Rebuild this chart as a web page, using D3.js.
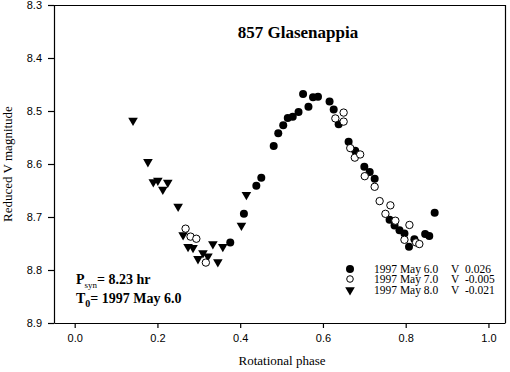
<!DOCTYPE html>
<html>
<head>
<meta charset="utf-8">
<script src="https://cdn.jsdelivr.net/npm/d3@7"></script>
<style>
  body { margin: 0; background: #fff; }
  svg { display: block; }
</style>
</head>
<body>
<div id="chart"></div>
<script>
// 1997 May 6.0 (filled circles)
const may6Phase = [0.376, 0.409, 0.439, 0.451, 0.481, 0.492, 0.504, 0.515, 0.527, 0.541, 0.552, 0.565, 0.576, 0.588, 0.616, 0.626, 0.638, 0.662, 0.678, 0.700, 0.713, 0.725, 0.761, 0.773, 0.785, 0.797, 0.808, 0.821, 0.847, 0.857, 0.870]
const may6Mag = [8.748, 8.694, 8.641, 8.626, 8.566, 8.542, 8.527, 8.513, 8.511, 8.502, 8.468, 8.492, 8.474, 8.473, 8.482, 8.497, 8.525, 8.558, 8.575, 8.605, 8.615, 8.628, 8.705, 8.716, 8.725, 8.731, 8.756, 8.742, 8.732, 8.736, 8.692]
// 1997 May 7.0 (open circles)
const may7Phase = [0.268, 0.280, 0.294, 0.317, 0.630, 0.650, 0.650, 0.666, 0.677, 0.690, 0.701, 0.725, 0.737, 0.763, 0.751, 0.775, 0.809, 0.797, 0.825, 0.833]
const may7Mag = [8.722, 8.737, 8.741, 8.786, 8.514, 8.503, 8.520, 8.570, 8.588, 8.582, 8.623, 8.643, 8.670, 8.678, 8.694, 8.707, 8.715, 8.743, 8.748, 8.751]
// 1997 May 8.0 (triangles)
const may8Phase = [0.141, 0.177, 0.190, 0.201, 0.213, 0.225, 0.250, 0.262, 0.274, 0.286, 0.298, 0.310, 0.322, 0.334, 0.346, 0.358, 0.403, 0.415]
const may8Mag = [8.518, 8.596, 8.634, 8.631, 8.648, 8.635, 8.680, 8.734, 8.756, 8.758, 8.779, 8.768, 8.774, 8.751, 8.785, 8.756, 8.716, 8.658]

const legendLabels = ["1997 May 6.0", "1997 May 7.0", "1997 May 8.0"]
const legendOffsets = ["0.026", "-0.005", "-0.021"]
const xTicks = [0, 0.2, 0.4, 0.6, 0.8, 1.0]
const yTicks = [8.3, 8.4, 8.5, 8.6, 8.7, 8.8, 8.9]

const w = 510
const h = 372
const margL = 54, margR = 505, margT = 5, margB = 323
const serif = "'Liberation Serif', 'Times New Roman', serif"
const sans = "'Liberation Sans', Arial, sans-serif"

const svg = d3.select('#chart')
    .append('svg')
    .attr('width', w)
    .attr('height', h)

const xScale = d3.scaleLinear()
    .domain([-0.05, 1.04])
    .range([margL, margR])

const yScale = d3.scaleLinear()
    .domain([8.3, 8.9])
    .range([margT, margB])

const xAxis = d3.axisBottom(xScale)
    .tickValues(xTicks)
    .tickFormat(d3.format('.1f'))
    .tickSize(5)
    .tickSizeOuter(0)
    .tickPadding(6)
const yAxis = d3.axisLeft(yScale)
    .tickValues(yTicks)
    .tickFormat(d3.format('.1f'))
    .tickSize(6)
    .tickSizeOuter(0)
    .tickPadding(6)

// frame top + right
svg.append('path')
    .attr('d', 'M' + margL + ',' + (margT + 0.5) + 'H' + (margR + 0.5) + 'V' + margB)
    .attr('fill', 'none')
    .attr('stroke', '#000')
    .attr('stroke-width', 1.2)

const gx = svg.append('g')
    .attr('transform', 'translate(0,' + margB + ')')
    .call(xAxis)
const gy = svg.append('g')
    .attr('transform', 'translate(' + margL + ',0)')
    .call(yAxis)

;[gx, gy].forEach(g => {
    g.selectAll('path, line').attr('stroke', '#000').attr('stroke-width', 1.2)
    g.selectAll('text').attr('fill', '#000').style('font-family', sans).style('font-size', '11px')
})

const toPoints = (ph, mg) => ph.map((p, i) => ({ p: p, m: mg[i] }))

const triangle = d3.symbol().type(d3.symbolTriangle).size(40)

// May 8 triangles
svg.append('g')
    .selectAll('path')
    .data(toPoints(may8Phase, may8Mag))
    .enter()
    .append('path')
    .attr('d', triangle)
    .attr('transform', d => 'translate(' + xScale(d.p) + ',' + yScale(d.m) + ') rotate(180)')
    .attr('fill', '#000')

// May 6 filled circles
svg.append('g')
    .selectAll('circle')
    .data(toPoints(may6Phase, may6Mag))
    .enter()
    .append('circle')
    .attr('cx', d => xScale(d.p))
    .attr('cy', d => yScale(d.m))
    .attr('r', 4)
    .attr('fill', '#000')

// May 7 open circles
svg.append('g')
    .selectAll('circle')
    .data(toPoints(may7Phase, may7Mag))
    .enter()
    .append('circle')
    .attr('cx', d => xScale(d.p))
    .attr('cy', d => yScale(d.m))
    .attr('r', 3.7)
    .attr('fill', '#fff')
    .attr('stroke', '#000')
    .attr('stroke-width', 1)

// title
svg.append('text')
    .attr('x', 298)
    .attr('y', 38)
    .attr('text-anchor', 'middle')
    .style('font-family', serif)
    .style('font-weight', 'bold')
    .style('font-size', '17px')
    .text('857 Glasenappia')

// axis titles
svg.append('text')
    .attr('x', 282)
    .attr('y', 365)
    .attr('text-anchor', 'middle')
    .style('font-family', serif)
    .style('font-size', '13px')
    .text('Rotational phase')

svg.append('text')
    .attr('transform', 'translate(12,164) rotate(-90)')
    .attr('text-anchor', 'middle')
    .style('font-family', serif)
    .style('font-size', '13px')
    .text('Reduced V magnitude')

// annotation
const ann = svg.append('g')
    .style('font-family', serif)
    .style('font-weight', 'bold')
    .style('font-size', '14px')
const a1 = ann.append('text').attr('x', 76).attr('y', 284)
a1.append('tspan').text('P')
a1.append('tspan').attr('dy', 4).style('font-size', '9px').style('font-weight', 'normal').text('syn')
a1.append('tspan').attr('dy', -4).text('= 8.23 hr')
const a2 = ann.append('text').attr('x', 76).attr('y', 303)
a2.append('tspan').text('T')
a2.append('tspan').attr('dy', 4).style('font-size', '10px').text('0')
a2.append('tspan').attr('dy', -4).text('= 1997 May 6.0')

// legend
const legend = svg.append('g')
    .style('font-family', serif)
    .style('font-size', '11.5px')
const legY = [269, 279.5, 290]
legendLabels.forEach((lab, i) => {
    const y = legY[i]
    if (i === 0) {
        legend.append('circle').attr('cx', 350).attr('cy', y).attr('r', 4).attr('fill', '#000')
    } else if (i === 1) {
        legend.append('circle').attr('cx', 350).attr('cy', y - 0.5).attr('r', 3.3)
            .attr('fill', '#fff').attr('stroke', '#000').attr('stroke-width', 1)
    } else {
        legend.append('path').attr('d', triangle)
            .attr('transform', 'translate(350,' + y + ') rotate(180)').attr('fill', '#000')
    }
    legend.append('text').attr('x', 374).attr('y', y + 3.5).text(lab)
    legend.append('text').attr('x', 451).attr('y', y + 3.5).text('V')
    legend.append('text').attr('x', 465).attr('y', y + 3.5).text(legendOffsets[i])
})
</script>
</body>
</html>
